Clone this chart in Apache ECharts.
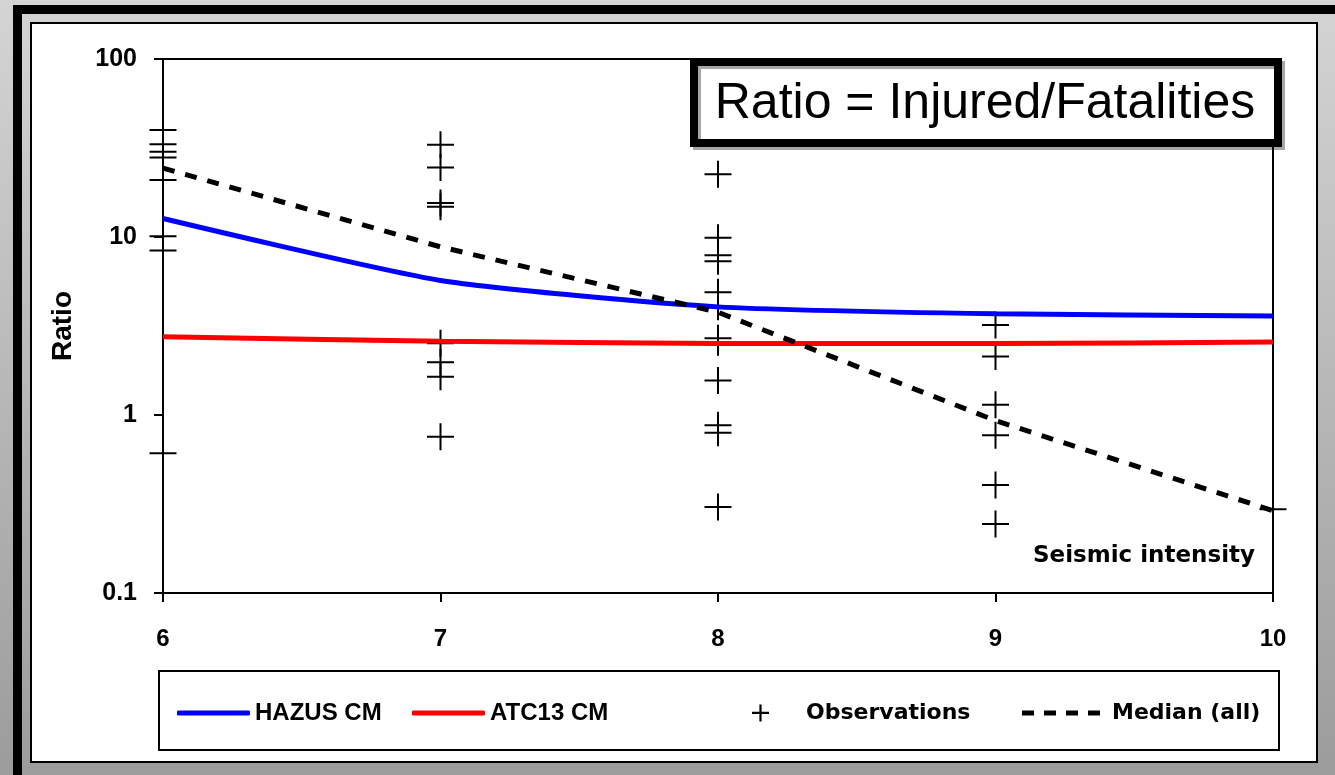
<!DOCTYPE html>
<html>
<head>
<meta charset="utf-8">
<script src="https://cdn.jsdelivr.net/npm/echarts@6/dist/echarts.min.js"></script>
<style>
  html, body { margin: 0; padding: 0; }
  body {
    width: 1335px; height: 775px; overflow: hidden; position: relative;
    background: linear-gradient(to bottom, #d4d4d4, #9c9c9c);
  }
  .frame {
    position: absolute; left: 13px; top: 5px; width: 1400px; height: 900px;
    border-left: 9px solid #000; border-top: 9px solid #000;
  }
  .panel {
    position: absolute; left: 30px; top: 22px; width: 1288px; height: 741px;
    box-sizing: border-box; background: #fff; border: 2px solid #000;
  }
  #chart { position: absolute; left: 0; top: 0; width: 1335px; height: 775px; }
</style>
</head>
<body>
<div class="frame"></div>
<div class="panel"></div>
<div id="chart"></div>
<script>
// seismic intensity (x)
const intensities = [6, 7, 8, 9, 10];
// model curves, ratio injured / fatalities
const hazusCM = [12.7, 5.7, 4.05, 3.7, 3.6];
const atc13CM = [2.75, 2.6, 2.52, 2.52, 2.57];
const medianAll = [24.4, 8.8, 3.78, 0.93, 0.29];
// observations per intensity
const obs6 = [39.9, 33.2, 30.1, 28.0, 20.9, 10.1, 8.4, 0.61];
const obs7 = [33.0, 24.6, 15.5, 14.8, 2.53, 1.98, 1.64, 0.755];
const obs8 = [22.5, 9.9, 7.9, 7.3, 4.9, 4.06, 2.7, 2.56, 1.56, 0.875, 0.796, 0.304];
const obs9 = [3.2, 2.13, 1.14, 0.77, 0.404, 0.244];
const obs10 = [0.295];
const obsGroups = [obs6, obs7, obs8, obs9, obs10];

const arial = '"Liberation Sans", Arial, sans-serif';
const dejavu = '"DejaVu Sans", Verdana, sans-serif';
const plusPath = 'path://M0,12.5h27v2h-27z M12.5,0h2v27h-2z';
const plusIcon = 'path://M0,7.2h17v2.2h-17z M7.4,0h2.2v17h-2.2z';
const dashIcon = 'path://M0,0h12v5h-12z M22,0h12v5h-12z M44,0h12v5h-12z M66,0h12v5h-12z';

const pairs = (ys) => intensities.map((x, i) => [x, ys[i]]);
const obsData = [];
obsGroups.forEach((g, i) => g.forEach(v => obsData.push([intensities[i], v])));

const chart = echarts.init(document.getElementById('chart'));

const legendText = { fontFamily: arial, fontWeight: 'bold', fontSize: 24, color: '#000' };

const option = {
  animation: false,
  backgroundColor: 'transparent',
  grid: {
    left: 163, right: 62, top: 59, bottom: 182,
    show: true, borderColor: '#000', borderWidth: 2, backgroundColor: 'transparent'
  },
  title: [
    {
      text: 'Seismic intensity',
      right: 80, top: 545, padding: 0,
      textStyle: { fontFamily: dejavu, fontWeight: 'bold', fontSize: 23, color: '#000' }
    }
  ],
  legend: [
    {
      data: [{ name: 'HAZUS CM', icon: 'roundRect' }], left: 177, top: 701, padding: 0,
      itemWidth: 73, itemHeight: 5,
      textStyle: legendText
    },
    {
      data: [{ name: 'ATC13 CM', icon: 'roundRect' }], left: 412, top: 701, padding: 0,
      itemWidth: 73, itemHeight: 5,
      textStyle: legendText
    },
    {
      data: [{ name: 'Observations', icon: plusIcon }], left: 752, top: 702, padding: 0,
      itemWidth: 17, itemHeight: 17,
      textStyle: { fontFamily: dejavu, fontWeight: 'bold', fontSize: 22, color: '#000', padding: [0, 0, 0, 32] }
    },
    {
      data: [{ name: 'Median (all)', icon: dashIcon }], left: 1022, top: 702, padding: 0,
      itemWidth: 78, itemHeight: 5,
      textStyle: { fontFamily: dejavu, fontWeight: 'bold', fontSize: 22, color: '#000', padding: [0, 0, 0, 7] }
    }
  ],
  xAxis: {
    type: 'value', min: 6, max: 10, interval: 1,
    axisLine: { show: true, lineStyle: { color: '#000', width: 2 } },
    axisTick: { show: true, length: 9, lineStyle: { color: '#000', width: 2 } },
    axisLabel: { margin: 34, fontFamily: arial, fontWeight: 'bold', fontSize: 24, color: '#000' },
    splitLine: { show: false }
  },
  yAxis: {
    type: 'log', logBase: 10, min: 0.1, max: 100,
    name: 'Ratio', nameLocation: 'middle', nameRotate: 90, nameGap: 86,
    nameTextStyle: { fontFamily: arial, fontWeight: 'bold', fontSize: 28, color: '#000' },
    axisLine: { show: true, lineStyle: { color: '#000', width: 2 } },
    axisTick: { show: true, length: 9, lineStyle: { color: '#000', width: 2 } },
    axisLabel: {
      margin: 26, fontFamily: arial, fontWeight: 'bold', fontSize: 25, color: '#000',
      formatter: (v) => String(+v.toPrecision(3))
    },
    splitLine: { show: false },
    minorTick: { show: false }
  },
  graphic: [
    {
      type: 'group', z: 100,
      children: [
        {
          type: 'rect',
          shape: { x: 694, y: 62, width: 584, height: 81 },
          style: { fill: '#fff', stroke: '#000', lineWidth: 8, shadowColor: 'rgba(0,0,0,0.35)', shadowOffsetX: 3, shadowOffsetY: 3 }
        },
        {
          type: 'text',
          style: {
            text: 'Ratio = Injured/Fatalities', x: 985, y: 104,
            textAlign: 'center', textVerticalAlign: 'middle',
            font: '50px "Liberation Sans", Arial, sans-serif', fill: '#000'
          }
        }
      ]
    },
    {
      type: 'rect', z: 1,
      shape: { x: 159, y: 671, width: 1120, height: 79 },
      style: { fill: 'transparent', stroke: '#000', lineWidth: 2 }
    }
  ],
  series: [
    {
      name: 'HAZUS CM', type: 'line', data: pairs(hazusCM),
      smooth: 0.2, symbol: 'none',
      lineStyle: { color: '#0000ff', width: 5 }, itemStyle: { color: '#0000ff' }
    },
    {
      name: 'ATC13 CM', type: 'line', data: pairs(atc13CM),
      smooth: 0.2, symbol: 'none',
      lineStyle: { color: '#ff0000', width: 5 }, itemStyle: { color: '#ff0000' }
    },
    {
      name: 'Median (all)', type: 'line', data: pairs(medianAll),
      symbol: 'none',
      lineStyle: { color: '#000', width: 5, type: [12, 11] }, itemStyle: { color: '#000' }
    },
    {
      name: 'Observations', type: 'scatter', data: obsData,
      symbol: plusPath, symbolSize: 27,
      itemStyle: { color: '#000', opacity: 1 }
    }
  ]
};

chart.setOption(option);
</script>
</body>
</html>
